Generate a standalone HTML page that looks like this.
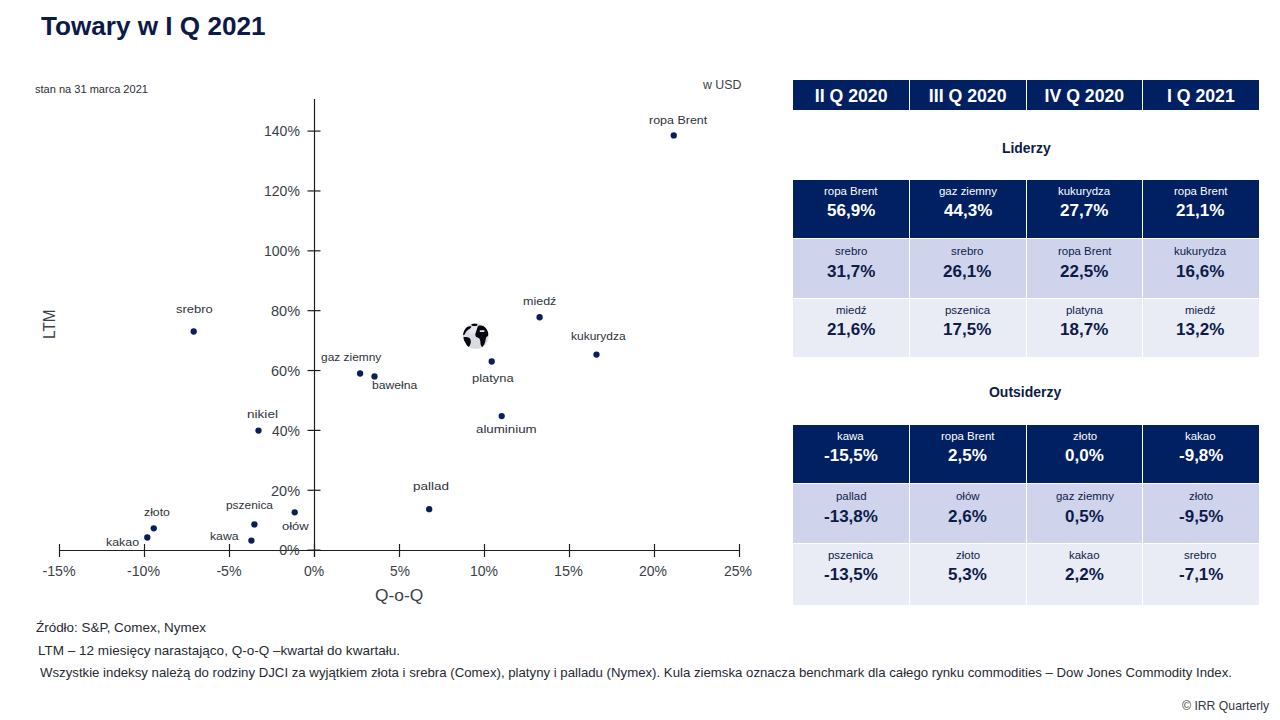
<!DOCTYPE html>
<html><head><meta charset="utf-8"><style>
html,body{margin:0;padding:0;background:#fff;width:1280px;height:720px;overflow:hidden;position:relative;font-family:"Liberation Sans",sans-serif}
.t{position:absolute;white-space:nowrap;line-height:0;transform-origin:0 0}
.t span{display:inline-block;line-height:0}
svg{position:absolute;left:0;top:0}
.c{position:absolute}
</style></head><body>
<svg width="1280" height="720" viewBox="0 0 1280 720">
<line x1='314.5' y1='99' x2='314.5' y2='557' stroke='#1e1e1e' stroke-width='1.2'/><line x1='59' y1='550.5' x2='740' y2='550.5' stroke='#1e1e1e' stroke-width='1.2'/><line x1='307.5' y1='131.10' x2='320.5' y2='131.10' stroke='#1e1e1e' stroke-width='1.2'/><line x1='307.5' y1='190.96' x2='320.5' y2='190.96' stroke='#1e1e1e' stroke-width='1.2'/><line x1='307.5' y1='250.82' x2='320.5' y2='250.82' stroke='#1e1e1e' stroke-width='1.2'/><line x1='307.5' y1='310.68' x2='320.5' y2='310.68' stroke='#1e1e1e' stroke-width='1.2'/><line x1='307.5' y1='370.54' x2='320.5' y2='370.54' stroke='#1e1e1e' stroke-width='1.2'/><line x1='307.5' y1='430.40' x2='320.5' y2='430.40' stroke='#1e1e1e' stroke-width='1.2'/><line x1='307.5' y1='490.26' x2='320.5' y2='490.26' stroke='#1e1e1e' stroke-width='1.2'/><line x1='307.5' y1='550.12' x2='320.5' y2='550.12' stroke='#1e1e1e' stroke-width='1.2'/><line x1='59.50' y1='544' x2='59.50' y2='557' stroke='#1e1e1e' stroke-width='1.2'/><line x1='144.50' y1='544' x2='144.50' y2='557' stroke='#1e1e1e' stroke-width='1.2'/><line x1='229.50' y1='544' x2='229.50' y2='557' stroke='#1e1e1e' stroke-width='1.2'/><line x1='314.50' y1='544' x2='314.50' y2='557' stroke='#1e1e1e' stroke-width='1.2'/><line x1='399.50' y1='544' x2='399.50' y2='557' stroke='#1e1e1e' stroke-width='1.2'/><line x1='484.50' y1='544' x2='484.50' y2='557' stroke='#1e1e1e' stroke-width='1.2'/><line x1='569.50' y1='544' x2='569.50' y2='557' stroke='#1e1e1e' stroke-width='1.2'/><line x1='654.50' y1='544' x2='654.50' y2='557' stroke='#1e1e1e' stroke-width='1.2'/><line x1='739.50' y1='544' x2='739.50' y2='557' stroke='#1e1e1e' stroke-width='1.2'/><circle cx='673.75' cy='135.4' r='3.15' fill='#0a1f5a'/><circle cx='193.7' cy='331.5' r='3.15' fill='#0a1f5a'/><circle cx='539.6' cy='317.25' r='3.15' fill='#0a1f5a'/><circle cx='596.5' cy='354.6' r='3.15' fill='#0a1f5a'/><circle cx='360.1' cy='373.5' r='3.15' fill='#0a1f5a'/><circle cx='374.5' cy='376.4' r='3.15' fill='#0a1f5a'/><circle cx='491.7' cy='361.5' r='3.15' fill='#0a1f5a'/><circle cx='501.7' cy='416.1' r='3.15' fill='#0a1f5a'/><circle cx='258.5' cy='430.6' r='3.15' fill='#0a1f5a'/><circle cx='429.2' cy='509.2' r='3.15' fill='#0a1f5a'/><circle cx='153.75' cy='528.3' r='3.15' fill='#0a1f5a'/><circle cx='147.3' cy='537.5' r='3.15' fill='#0a1f5a'/><circle cx='254.4' cy='524.4' r='3.15' fill='#0a1f5a'/><circle cx='251.4' cy='540.6' r='3.15' fill='#0a1f5a'/><circle cx='294.7' cy='512.3' r='3.15' fill='#0a1f5a'/><g transform='translate(475.8,336.1) scale(1.04)'>
<clipPath id='gc'><circle r='12.3'/></clipPath>
<circle r='12.3' fill='#dadae2'/>
<g clip-path='url(#gc)'>
<path d='M-8,-12 L3,-12 L1,-3 L-6,-2 Z' fill='#e6e6ec'/>
<g fill='#06060e'>
<ellipse cx='-1.3' cy='-10.9' rx='3' ry='1.3'/>
<path d='M-13,-1.5 C-12.5,-5 -11,-7.5 -8.75,-8.6 C-7,-9.4 -5.5,-9.6 -4.2,-9.3 C-4.6,-8 -5.6,-7.2 -7,-6.4 C-8.8,-5.2 -9.8,-4 -10.4,-2 C-11,-0.8 -12,-0.5 -13,-1.5 Z'/>
<path d='M-12,1.3 C-10,0.6 -8,0.7 -6,1.8 C-4.8,3 -4.4,5 -5,7.2 C-5.6,9 -6.4,10.4 -7.1,11 C-8.2,10 -9,8.8 -10,6.5 C-11,4.8 -11.8,3 -12,1.3 Z'/>
<path d='M2.5,-10 C5,-10.6 7.5,-9.8 9.5,-8.2 C11.2,-6.8 12.4,-4.6 12.5,-2 C12,0 10.8,0.6 10,1 C9.6,2.4 9.4,4.8 8.5,7 C7.8,8.8 6.8,10 6.2,10.5 C5.2,9.8 4.6,8.4 4.5,6.8 C4.5,5.4 4.4,3.8 3.4,2.4 C2.6,1.4 1.2,1.2 0.4,0.8 C-0.4,0 -0.6,-1.4 -0.3,-2.4 C0.2,-4 0.8,-5.5 1.2,-7 C1.6,-8.4 1.8,-9.4 2.5,-10 Z'/>
</g>
<path d='M3.8,-5.6 L8.4,-5.6 L8.2,-3.9 L3.8,-4 Z' fill='#e2e2ea'/>
</g>
</g>
</svg>
<div class='c' style='left:793.00px;top:80.00px;width:116.00px;height:30.30px;background:#012062'></div><div class='c' style='left:910.00px;top:80.00px;width:115.70px;height:30.30px;background:#012062'></div><div class='c' style='left:1026.70px;top:80.00px;width:115.70px;height:30.30px;background:#012062'></div><div class='c' style='left:1143.40px;top:80.00px;width:115.60px;height:30.30px;background:#012062'></div><div class='c' style='left:793.00px;top:180.00px;width:116.00px;height:58.00px;background:#012062'></div><div class='c' style='left:910.00px;top:180.00px;width:115.70px;height:58.00px;background:#012062'></div><div class='c' style='left:1026.70px;top:180.00px;width:115.70px;height:58.00px;background:#012062'></div><div class='c' style='left:1143.40px;top:180.00px;width:115.60px;height:58.00px;background:#012062'></div><div class='c' style='left:793.00px;top:239.00px;width:116.00px;height:58.50px;background:#cfd4ec'></div><div class='c' style='left:910.00px;top:239.00px;width:115.70px;height:58.50px;background:#cfd4ec'></div><div class='c' style='left:1026.70px;top:239.00px;width:115.70px;height:58.50px;background:#cfd4ec'></div><div class='c' style='left:1143.40px;top:239.00px;width:115.60px;height:58.50px;background:#cfd4ec'></div><div class='c' style='left:793.00px;top:298.50px;width:116.00px;height:58.00px;background:#e9ebf5'></div><div class='c' style='left:910.00px;top:298.50px;width:115.70px;height:58.00px;background:#e9ebf5'></div><div class='c' style='left:1026.70px;top:298.50px;width:115.70px;height:58.00px;background:#e9ebf5'></div><div class='c' style='left:1143.40px;top:298.50px;width:115.60px;height:58.00px;background:#e9ebf5'></div><div class='c' style='left:793.00px;top:425.00px;width:116.00px;height:58.00px;background:#012062'></div><div class='c' style='left:910.00px;top:425.00px;width:115.70px;height:58.00px;background:#012062'></div><div class='c' style='left:1026.70px;top:425.00px;width:115.70px;height:58.00px;background:#012062'></div><div class='c' style='left:1143.40px;top:425.00px;width:115.60px;height:58.00px;background:#012062'></div><div class='c' style='left:793.00px;top:484.00px;width:116.00px;height:58.50px;background:#cfd4ec'></div><div class='c' style='left:910.00px;top:484.00px;width:115.70px;height:58.50px;background:#cfd4ec'></div><div class='c' style='left:1026.70px;top:484.00px;width:115.70px;height:58.50px;background:#cfd4ec'></div><div class='c' style='left:1143.40px;top:484.00px;width:115.60px;height:58.50px;background:#cfd4ec'></div><div class='c' style='left:793.00px;top:543.50px;width:116.00px;height:61.00px;background:#e9ebf5'></div><div class='c' style='left:910.00px;top:543.50px;width:115.70px;height:61.00px;background:#e9ebf5'></div><div class='c' style='left:1026.70px;top:543.50px;width:115.70px;height:61.00px;background:#e9ebf5'></div><div class='c' style='left:1143.40px;top:543.50px;width:115.60px;height:61.00px;background:#e9ebf5'></div>
<div class='t' style='left:48.5px;top:339px;font-size:16.5px;color:#3b3f48;transform:rotate(-90deg) scaleX(0.93)'><span>LTM</span></div>
<div class='t' style='left:41.00px;top:25.64px;font-size:25.60px;font-weight:700;color:#0c1a48;transform:scaleX(1.0205)'><span>Towary w I Q 2021</span></div><div class='t' style='left:35.40px;top:88.55px;font-size:11.00px;color:#2a2e36;transform:scaleX(1.0036)'><span>stan na 31 marca 2021</span></div><div class='t' style='left:702.80px;top:85.12px;font-size:12.80px;color:#3b3f48;transform:scaleX(0.9667)'><span>w USD</span></div><div class='t' style='left:263.61px;top:131.43px;font-size:14.20px;color:#3b3f48;transform:scaleX(0.9886)'><span>140%</span></div><div class='t' style='left:263.61px;top:191.29px;font-size:14.20px;color:#3b3f48;transform:scaleX(0.9886)'><span>120%</span></div><div class='t' style='left:263.61px;top:251.15px;font-size:14.20px;color:#3b3f48;transform:scaleX(0.9886)'><span>100%</span></div><div class='t' style='left:270.58px;top:311.01px;font-size:14.20px;color:#3b3f48;transform:scaleX(1.0222)'><span>80%</span></div><div class='t' style='left:270.58px;top:370.87px;font-size:14.20px;color:#3b3f48;transform:scaleX(1.0222)'><span>60%</span></div><div class='t' style='left:271.60px;top:430.73px;font-size:14.20px;color:#3b3f48;transform:scaleX(0.9857)'><span>40%</span></div><div class='t' style='left:270.58px;top:490.59px;font-size:14.20px;color:#3b3f48;transform:scaleX(1.0222)'><span>20%</span></div><div class='t' style='left:279.20px;top:550.45px;font-size:14.20px;color:#3b3f48'><span>0%</span></div><div class='t' style='left:42.50px;top:570.93px;font-size:14.20px;color:#3b3f48'><span>-15%</span></div><div class='t' style='left:127.00px;top:570.93px;font-size:14.20px;color:#3b3f48'><span>-10%</span></div><div class='t' style='left:216.40px;top:570.93px;font-size:14.20px;color:#3b3f48'><span>-5%</span></div><div class='t' style='left:304.07px;top:570.93px;font-size:14.20px;color:#3b3f48;transform:scaleX(0.9842)'><span>0%</span></div><div class='t' style='left:389.53px;top:570.93px;font-size:14.20px;color:#3b3f48;transform:scaleX(0.9684)'><span>5%</span></div><div class='t' style='left:470.26px;top:570.93px;font-size:14.20px;color:#3b3f48;transform:scaleX(0.9889)'><span>10%</span></div><div class='t' style='left:553.98px;top:570.93px;font-size:14.20px;color:#3b3f48;transform:scaleX(1.0185)'><span>15%</span></div><div class='t' style='left:639.31px;top:570.93px;font-size:14.20px;color:#3b3f48;transform:scaleX(0.9852)'><span>20%</span></div><div class='t' style='left:724.31px;top:570.93px;font-size:14.20px;color:#3b3f48;transform:scaleX(0.9852)'><span>25%</span></div><div class='t' style='left:375.32px;top:595.90px;font-size:16.00px;color:#3b3f48;transform:scaleX(1.0837)'><span>Q-o-Q</span></div><div class='t' style='left:648.92px;top:119.84px;font-size:11.60px;color:#2e323c;transform:scaleX(1.0755)'><span>ropa Brent</span></div><div class='t' style='left:175.88px;top:308.54px;font-size:11.60px;color:#2e323c;transform:scaleX(1.1188)'><span>srebro</span></div><div class='t' style='left:522.67px;top:301.04px;font-size:11.60px;color:#2e323c;transform:scaleX(1.0776)'><span>miedź</span></div><div class='t' style='left:570.87px;top:336.04px;font-size:11.60px;color:#2e323c;transform:scaleX(1.0327)'><span>kukurydza</span></div><div class='t' style='left:321.17px;top:357.44px;font-size:11.60px;color:#2e323c;transform:scaleX(1.0281)'><span>gaz ziemny</span></div><div class='t' style='left:371.75px;top:385.34px;font-size:11.60px;color:#2e323c;transform:scaleX(1.0476)'><span>bawełna</span></div><div class='t' style='left:471.68px;top:377.64px;font-size:11.60px;color:#2e323c;transform:scaleX(1.1167)'><span>platyna</span></div><div class='t' style='left:476.25px;top:429.04px;font-size:11.60px;color:#2e323c;transform:scaleX(1.1490)'><span>aluminium</span></div><div class='t' style='left:246.73px;top:414.24px;font-size:11.60px;color:#2e323c;transform:scaleX(1.1720)'><span>nikiel</span></div><div class='t' style='left:413.04px;top:486.44px;font-size:11.60px;color:#2e323c;transform:scaleX(1.1621)'><span>pallad</span></div><div class='t' style='left:144.20px;top:512.04px;font-size:11.60px;color:#2e323c;transform:scaleX(1.0583)'><span>złoto</span></div><div class='t' style='left:105.63px;top:542.04px;font-size:11.60px;color:#2e323c;transform:scaleX(1.0683)'><span>kakao</span></div><div class='t' style='left:225.67px;top:505.34px;font-size:11.60px;color:#2e323c;transform:scaleX(1.0267)'><span>pszenica</span></div><div class='t' style='left:209.75px;top:535.84px;font-size:11.60px;color:#2e323c;transform:scaleX(1.0538)'><span>kawa</span></div><div class='t' style='left:282.28px;top:526.04px;font-size:11.60px;color:#2e323c;transform:scaleX(1.1217)'><span>ołów</span></div><div class='t' style='left:36.40px;top:628.01px;font-size:13.10px;color:#262a33;transform:scaleX(1.0255)'><span>Źródło: S&amp;P, Comex, Nymex</span></div><div class='t' style='left:37.57px;top:651.12px;font-size:13.10px;color:#262a33;transform:scaleX(1.0327)'><span>LTM – 12 miesięcy narastająco, Q-o-Q –kwartał do kwartału.</span></div><div class='t' style='left:40.30px;top:672.51px;font-size:13.10px;color:#262a33;transform:scaleX(1.0086)'><span>Wszystkie indeksy należą do rodziny DJCI za wyjątkiem złota i srebra (Comex), platyny i palladu (Nymex). Kula ziemska oznacza benchmark dla całego rynku commodities – Dow Jones Commodity Index.</span></div><div class='t' style='left:1182.00px;top:706.36px;font-size:12.40px;color:#333842;transform:scaleX(0.9864)'><span>© IRR Quarterly</span></div><div class='t' style='left:814.75px;top:96.41px;font-size:17.70px;font-weight:700;color:#ffffff'><span>II Q 2020</span></div><div class='t' style='left:928.85px;top:96.41px;font-size:17.70px;font-weight:700;color:#ffffff'><span>III Q 2020</span></div><div class='t' style='left:1044.55px;top:96.41px;font-size:17.70px;font-weight:700;color:#ffffff'><span>IV Q 2020</span></div><div class='t' style='left:1166.95px;top:96.41px;font-size:17.70px;font-weight:700;color:#ffffff'><span>I Q 2021</span></div><div class='t' style='left:824.25px;top:191.49px;font-size:10.60px;color:#ffffff;transform:scaleX(1.0800)'><span>ropa Brent</span></div><div class='t' style='left:826.77px;top:210.66px;font-size:16.70px;font-weight:700;color:#ffffff;transform:scaleX(1.0200)'><span>56,9%</span></div><div class='t' style='left:939.23px;top:191.49px;font-size:10.60px;color:#ffffff;transform:scaleX(1.0800)'><span>gaz ziemny</span></div><div class='t' style='left:943.88px;top:210.66px;font-size:16.70px;font-weight:700;color:#ffffff;transform:scaleX(1.0200)'><span>44,3%</span></div><div class='t' style='left:1058.09px;top:191.49px;font-size:10.60px;color:#ffffff;transform:scaleX(1.0800)'><span>kukurydza</span></div><div class='t' style='left:1060.07px;top:210.66px;font-size:16.70px;font-weight:700;color:#ffffff;transform:scaleX(1.0200)'><span>27,7%</span></div><div class='t' style='left:1173.95px;top:191.49px;font-size:10.60px;color:#ffffff;transform:scaleX(1.0800)'><span>ropa Brent</span></div><div class='t' style='left:1176.47px;top:210.66px;font-size:16.70px;font-weight:700;color:#ffffff;transform:scaleX(1.0200)'><span>21,1%</span></div><div class='t' style='left:834.51px;top:251.39px;font-size:10.60px;color:#0d1b4a;transform:scaleX(1.0800)'><span>srebro</span></div><div class='t' style='left:826.77px;top:271.55px;font-size:16.70px;font-weight:700;color:#0d1b4a;transform:scaleX(1.0200)'><span>31,7%</span></div><div class='t' style='left:951.11px;top:251.39px;font-size:10.60px;color:#0d1b4a;transform:scaleX(1.0800)'><span>srebro</span></div><div class='t' style='left:943.37px;top:271.55px;font-size:16.70px;font-weight:700;color:#0d1b4a;transform:scaleX(1.0200)'><span>26,1%</span></div><div class='t' style='left:1057.55px;top:251.39px;font-size:10.60px;color:#0d1b4a;transform:scaleX(1.0800)'><span>ropa Brent</span></div><div class='t' style='left:1060.07px;top:271.55px;font-size:16.70px;font-weight:700;color:#0d1b4a;transform:scaleX(1.0200)'><span>22,5%</span></div><div class='t' style='left:1174.49px;top:251.39px;font-size:10.60px;color:#0d1b4a;transform:scaleX(1.0800)'><span>kukurydza</span></div><div class='t' style='left:1176.47px;top:271.55px;font-size:16.70px;font-weight:700;color:#0d1b4a;transform:scaleX(1.0200)'><span>16,6%</span></div><div class='t' style='left:835.59px;top:309.89px;font-size:10.60px;color:#0d1b4a;transform:scaleX(1.0800)'><span>miedź</span></div><div class='t' style='left:826.77px;top:330.25px;font-size:16.70px;font-weight:700;color:#0d1b4a;transform:scaleX(1.0200)'><span>21,6%</span></div><div class='t' style='left:944.63px;top:309.89px;font-size:10.60px;color:#0d1b4a;transform:scaleX(1.0800)'><span>pszenica</span></div><div class='t' style='left:943.37px;top:330.25px;font-size:16.70px;font-weight:700;color:#0d1b4a;transform:scaleX(1.0200)'><span>17,5%</span></div><div class='t' style='left:1065.65px;top:309.89px;font-size:10.60px;color:#0d1b4a;transform:scaleX(1.0800)'><span>platyna</span></div><div class='t' style='left:1060.07px;top:330.25px;font-size:16.70px;font-weight:700;color:#0d1b4a;transform:scaleX(1.0200)'><span>18,7%</span></div><div class='t' style='left:1185.29px;top:309.89px;font-size:10.60px;color:#0d1b4a;transform:scaleX(1.0800)'><span>miedź</span></div><div class='t' style='left:1176.47px;top:330.25px;font-size:16.70px;font-weight:700;color:#0d1b4a;transform:scaleX(1.0200)'><span>13,2%</span></div><div class='t' style='left:837.21px;top:436.49px;font-size:10.60px;color:#ffffff;transform:scaleX(1.0800)'><span>kawa</span></div><div class='t' style='left:824.22px;top:455.65px;font-size:16.70px;font-weight:700;color:#ffffff;transform:scaleX(1.0200)'><span>-15,5%</span></div><div class='t' style='left:940.85px;top:436.49px;font-size:10.60px;color:#ffffff;transform:scaleX(1.0800)'><span>ropa Brent</span></div><div class='t' style='left:947.96px;top:455.65px;font-size:16.70px;font-weight:700;color:#ffffff;transform:scaleX(1.0200)'><span>2,5%</span></div><div class='t' style='left:1072.67px;top:436.49px;font-size:10.60px;color:#ffffff;transform:scaleX(1.0800)'><span>złoto</span></div><div class='t' style='left:1064.66px;top:455.65px;font-size:16.70px;font-weight:700;color:#ffffff;transform:scaleX(1.0200)'><span>0,0%</span></div><div class='t' style='left:1185.29px;top:436.49px;font-size:10.60px;color:#ffffff;transform:scaleX(1.0800)'><span>kakao</span></div><div class='t' style='left:1178.51px;top:455.65px;font-size:16.70px;font-weight:700;color:#ffffff;transform:scaleX(1.0200)'><span>-9,8%</span></div><div class='t' style='left:835.59px;top:496.39px;font-size:10.60px;color:#0d1b4a;transform:scaleX(1.0800)'><span>pallad</span></div><div class='t' style='left:824.22px;top:516.56px;font-size:16.70px;font-weight:700;color:#0d1b4a;transform:scaleX(1.0200)'><span>-13,8%</span></div><div class='t' style='left:955.97px;top:496.39px;font-size:10.60px;color:#0d1b4a;transform:scaleX(1.0800)'><span>ołów</span></div><div class='t' style='left:947.96px;top:516.56px;font-size:16.70px;font-weight:700;color:#0d1b4a;transform:scaleX(1.0200)'><span>2,6%</span></div><div class='t' style='left:1055.93px;top:496.39px;font-size:10.60px;color:#0d1b4a;transform:scaleX(1.0800)'><span>gaz ziemny</span></div><div class='t' style='left:1064.66px;top:516.56px;font-size:16.70px;font-weight:700;color:#0d1b4a;transform:scaleX(1.0200)'><span>0,5%</span></div><div class='t' style='left:1189.07px;top:496.39px;font-size:10.60px;color:#0d1b4a;transform:scaleX(1.0800)'><span>złoto</span></div><div class='t' style='left:1178.51px;top:516.56px;font-size:16.70px;font-weight:700;color:#0d1b4a;transform:scaleX(1.0200)'><span>-9,5%</span></div><div class='t' style='left:828.03px;top:554.89px;font-size:10.60px;color:#0d1b4a;transform:scaleX(1.0800)'><span>pszenica</span></div><div class='t' style='left:824.22px;top:575.25px;font-size:16.70px;font-weight:700;color:#0d1b4a;transform:scaleX(1.0200)'><span>-13,5%</span></div><div class='t' style='left:955.97px;top:554.89px;font-size:10.60px;color:#0d1b4a;transform:scaleX(1.0800)'><span>złoto</span></div><div class='t' style='left:947.96px;top:575.25px;font-size:16.70px;font-weight:700;color:#0d1b4a;transform:scaleX(1.0200)'><span>5,3%</span></div><div class='t' style='left:1068.89px;top:554.89px;font-size:10.60px;color:#0d1b4a;transform:scaleX(1.0800)'><span>kakao</span></div><div class='t' style='left:1064.66px;top:575.25px;font-size:16.70px;font-weight:700;color:#0d1b4a;transform:scaleX(1.0200)'><span>2,2%</span></div><div class='t' style='left:1184.21px;top:554.89px;font-size:10.60px;color:#0d1b4a;transform:scaleX(1.0800)'><span>srebro</span></div><div class='t' style='left:1178.51px;top:575.25px;font-size:16.70px;font-weight:700;color:#0d1b4a;transform:scaleX(1.0200)'><span>-7,1%</span></div><div class='t' style='left:1001.59px;top:147.52px;font-size:14.80px;font-weight:700;color:#0d1b4a;transform:scaleX(0.9400)'><span>Liderzy</span></div><div class='t' style='left:989.06px;top:391.98px;font-size:15.20px;font-weight:700;color:#0d1b4a;transform:scaleX(0.9200)'><span>Outsiderzy</span></div>
</body></html>
